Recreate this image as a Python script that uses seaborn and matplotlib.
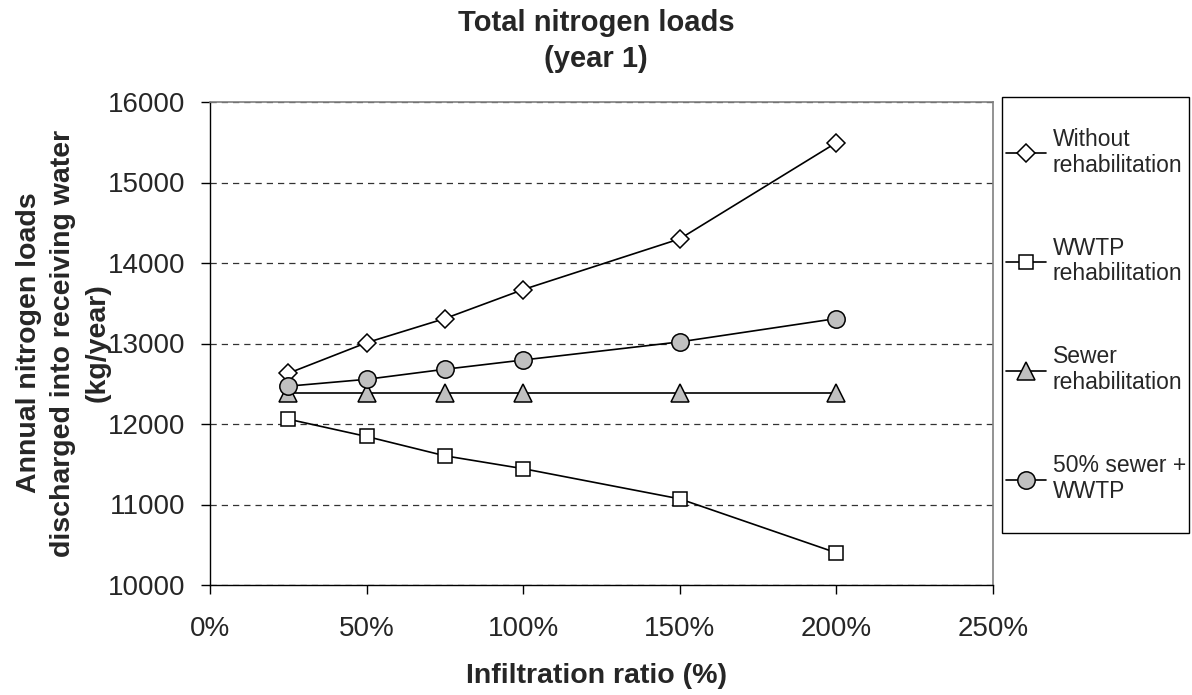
import matplotlib
matplotlib.use("Agg")
import matplotlib.pyplot as plt
from matplotlib.patches import Rectangle
from matplotlib.ticker import FuncFormatter
import seaborn as sns
import pandas as pd

# ---- data ----
infiltration = [25, 50, 75, 100, 150, 200]
without_rehab = [12630, 13010, 13310, 13670, 14300, 15495]
wwtp_rehab = [12060, 11845, 11605, 11445, 11070, 10400]
sewer_rehab = [12390, 12390, 12390, 12390, 12390, 12390]
half_sewer_wwtp = [12470, 12555, 12680, 12795, 13020, 13310]
series_names = ["Without\nrehabilitation", "WWTP\nrehabilitation",
                "Sewer\nrehabilitation", "50% sewer +\nWWTP"]
x_ticks = [0, 50, 100, 150, 200, 250]
y_ticks = [10000, 11000, 12000, 13000, 14000, 15000, 16000]

sns.set_theme(style="white")
plt.rcParams["font.family"] = ["Liberation Sans", "DejaVu Sans"]

W, H = 1192, 695
fig = plt.figure(figsize=(W / 100, H / 100), dpi=100)
L, R, T, B = 210, 993, 102, 585
ax = fig.add_axes([L / W, 1 - B / H, (R - L) / W, (B - T) / H])

values = [without_rehab, wwtp_rehab, sewer_rehab, half_sewer_wwtp]
styles = [
    dict(marker="D", markersize=9.5, markerfacecolor="white"),
    dict(marker="s", markersize=10.5, markerfacecolor="white"),
    dict(marker="^", markersize=12.5, markerfacecolor="#c0c0c0"),
    dict(marker="o", markersize=12.5, markerfacecolor="#c0c0c0"),
]
for name, vals, st in zip(series_names, values, styles):
    df = pd.DataFrame({"x": infiltration, "y": vals})
    sns.lineplot(data=df, x="x", y="y", ax=ax, color="black", linewidth=1.2,
                 markeredgecolor="black", markeredgewidth=1.1, label=name,
                 legend=False, **st)

ax.set_xlim(0, 250)
ax.set_ylim(10000, 16000)
ax.set_xticks(x_ticks)
ax.set_yticks(y_ticks)
ax.xaxis.set_major_formatter(FuncFormatter(lambda v, p: f"{int(v)}%"))
ax.tick_params(axis="both", which="major", labelsize=20, direction="out",
               length=6.5, width=1, color="black", bottom=True, left=True)
ax.tick_params(axis="y", pad=11)
ax.tick_params(axis="x", pad=16)
ax.yaxis.grid(True, linestyle=(0, (5, 4)), color="#333333", linewidth=0.9)
ax.xaxis.grid(False)
for s in ["left", "bottom"]:
    ax.spines[s].set_color("black")
    ax.spines[s].set_linewidth(1.0)
for s in ["top", "right"]:
    ax.spines[s].set_color("#808080")
    ax.spines[s].set_linewidth(1.2)
ax.set_xlabel("")
ax.set_ylabel("")

fig.text(596 / W, 1 - 41 / H, "Total nitrogen loads\n(year 1)", ha="center",
         va="center", fontsize=21, fontweight="bold", linespacing=1.38)
fig.text(597 / W, 1 - 676 / H, "Infiltration ratio (%)", ha="center",
         va="center", fontsize=20.5, fontweight="bold")
fig.text(63 / W, 1 - 343 / H,
         "Annual nitrogen loads\ndischarged into receiving water\n(kg/year)",
         ha="center", va="center", rotation=90, fontsize=20.5,
         fontweight="bold", multialignment="center", linespacing=1.42)

# legend box
fig.patches.append(Rectangle((1002 / W, 1 - 533 / H), 187 / W, 436 / H,
                             transform=fig.transFigure, facecolor="white",
                             edgecolor="black", linewidth=1.0, zorder=0))
handles, labels = ax.get_legend_handles_labels()
leg = fig.legend(handles, labels, loc="upper left",
                 bbox_to_anchor=(1006 / W, 1 - 128 / H), frameon=False,
                 fontsize=16.5, handlelength=1.75, handletextpad=0.3,
                 labelspacing=2.62, borderpad=0, borderaxespad=0)
for t in leg.get_texts():
    t.set_linespacing(1.15)

fig.savefig("out.png", dpi=100)
